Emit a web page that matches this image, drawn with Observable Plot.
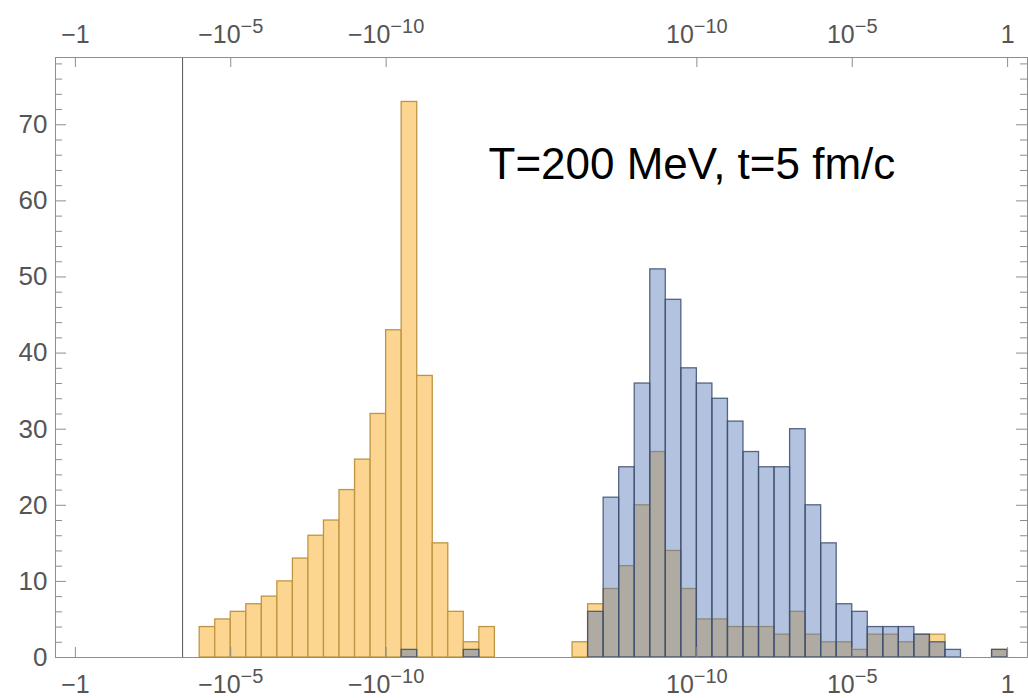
<!DOCTYPE html>
<html>
<head>
<meta charset="utf-8">
<script src="https://cdn.jsdelivr.net/npm/d3@7"></script>
<script src="https://cdn.jsdelivr.net/npm/@observablehq/plot@0.6"></script>
<style>
  body { margin: 0; background: #fff; }
  #chart { width: 1028px; height: 698px; }
</style>
</head>
<body>
<div id="chart"></div>
<script>
// Horizontal position uses a signed log magnitude: u = sign(x) * (log10|x| + 15).
// Histogram bins are half a decade wide, starting at u = -11.
const binStartU = -11;
const binWidthU = 0.5;

const orangeCounts = [
  4, 5, 6, 7, 8, 10, 13, 16, 18, 22, 26, 32, 43, 73, 37, 15, 6, 2, 4,
  0, 0, 0, 0, 0,
  2, 7, 9, 12, 20, 27, 14, 9, 5, 5, 4, 4, 4, 3, 6, 3, 2, 2, 1, 3, 3, 2, 3, 3, 0, 0, 0, 1
];
const blueCounts = [
  0, 0, 0, 0, 0, 0, 0, 0, 0, 0, 0, 0, 0, 1, 0, 0, 0, 1, 0,
  0, 0, 0, 0, 0,
  0, 6, 21, 25, 36, 51, 47, 38, 36, 34, 31, 27, 25, 25, 30, 20, 15, 7, 6, 4, 4, 4, 3, 2, 1, 0, 0, 1
];

const xTickValues = [-1, -1e-5, -1e-10, 1e-10, 1e-5, 1];
const xTickLabels = ["\u22121", "\u221210^\u22125", "\u221210^\u221210", "10^\u221210", "10^\u22125", "1"];
const yMajorTicks = [0, 10, 20, 30, 40, 50, 60, 70];
const yMinorTicks = [2, 4, 6, 8, 12, 14, 16, 18, 22, 24, 26, 28, 32, 34, 36, 38, 42, 44, 46, 48, 52, 54, 56, 58, 62, 64, 66, 68, 72, 74, 76, 78];
const guideU = -11.55;
const title = "T=200 MeV, t=5 fm/c";

const toU = v => Math.sign(v) * (Math.log10(Math.abs(v)) + 15);
const xTickU = xTickValues.map(toU);
const labelFor = u => xTickLabels[xTickU.findIndex(t => Math.abs(t - u) < 1e-9)];

const bins = orangeCounts.map((c, i) => ({
  x1: binStartU + i * binWidthU,
  x2: binStartU + (i + 1) * binWidthU,
  orange: c,
  blue: blueCounts[i]
}));

const W = 1028, H = 698, mL = 55, mR = 1, mT = 57, mB = 41;
const pw = W - mL - mR, ph = H - mT - mB;
const frameGray = "#8e8e8e";
const labelGray = "#555";

const chart = Plot.plot({
  width: W,
  height: H,
  marginLeft: mL,
  marginRight: mR,
  marginTop: mT,
  marginBottom: mB,
  x: { type: "linear", domain: [-15.64, 15.64] },
  y: { domain: [0, 78.84] },
  style: { fontFamily: "'Liberation Sans', Arial, sans-serif", background: "white" },
  marks: [
    Plot.rectY(bins.filter(d => d.orange > 0), {
      x1: "x1", x2: "x2", y1: 0, y2: "orange",
      fill: "#FCD690", stroke: "#BF9544", strokeWidth: 1.3
    }),
    Plot.rectY(bins.filter(d => d.blue > 0), {
      x1: "x1", x2: "x2", y1: 0, y2: "blue",
      fill: "#5577B8", fillOpacity: 0.45, stroke: "#3D4F70", strokeOpacity: 0.85, strokeWidth: 1.3
    }),
    Plot.ruleX([guideU], { stroke: "#555", strokeWidth: 1 }),
    Plot.frame({ stroke: frameGray }),
    // inward tick marks on all four sides
    Plot.tickY(yMajorTicks, { y: d => d, insetRight: pw - 11, stroke: frameGray }),
    Plot.tickY(yMinorTicks, { y: d => d, insetRight: pw - 7, stroke: frameGray }),
    Plot.tickY(yMajorTicks, { y: d => d, insetLeft: pw - 11, stroke: frameGray }),
    Plot.tickY(yMinorTicks, { y: d => d, insetLeft: pw - 7, stroke: frameGray }),
    Plot.tickX(xTickU, { x: d => d, insetTop: ph - 10, stroke: frameGray }),
    Plot.tickX(xTickU, { x: d => d, insetBottom: ph - 10, stroke: frameGray }),
    Plot.axisY({ anchor: "left", ticks: yMajorTicks, tickSize: 0, tickPadding: 8, fontSize: 26, fill: labelGray, label: null }),
    Plot.axisX({ anchor: "bottom", ticks: xTickU, tickFormat: labelFor, tickSize: 0, tickPadding: 18, fontSize: 25, fill: labelGray, label: null }),
    Plot.axisX({ anchor: "top", ticks: xTickU, tickFormat: labelFor, tickSize: 0, tickPadding: 15, fontSize: 25, fill: labelGray, label: null }),
    Plot.text([title], {
      frameAnchor: "top-left", textAnchor: "start", lineAnchor: "bottom",
      dx: 433, dy: 121, fontSize: 44, fill: "black"
    })
  ]
});

// Render "base^exponent" tick labels with a raised, smaller exponent.
chart.querySelectorAll('g[aria-label="x-axis tick label"] text').forEach(t => {
  const s = t.textContent;
  const k = s.indexOf("^");
  if (k < 0) return;
  t.textContent = s.slice(0, k);
  const sup = document.createElementNS("http://www.w3.org/2000/svg", "tspan");
  sup.setAttribute("font-size", "0.8em");
  sup.setAttribute("dy", "-0.5em");
  sup.textContent = s.slice(k + 1);
  t.appendChild(sup);
});

document.getElementById("chart").appendChild(chart);
</script>
</body>
</html>
